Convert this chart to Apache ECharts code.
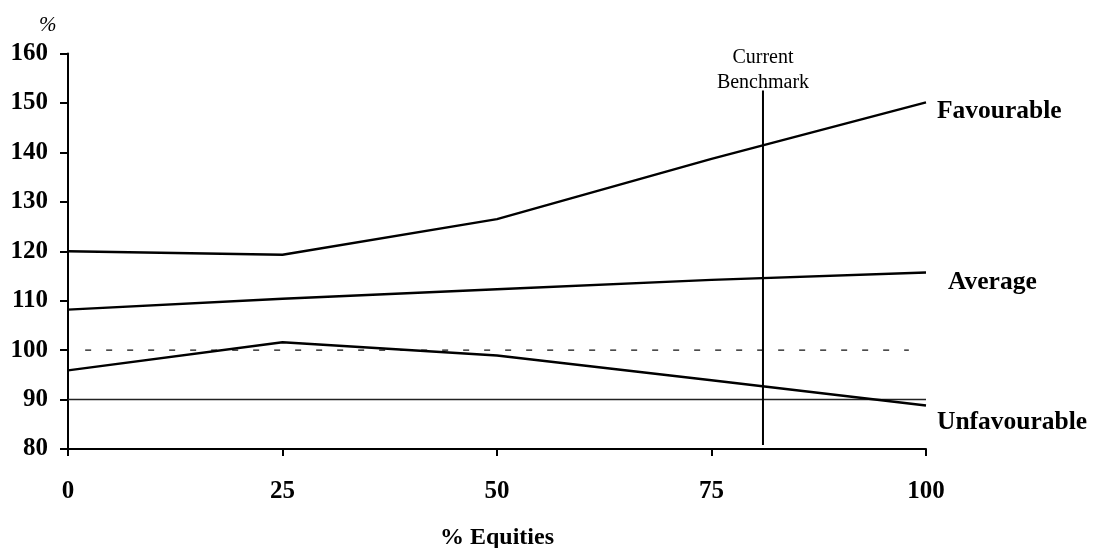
<!DOCTYPE html>
<html><head><meta charset="utf-8">
<script src="https://cdn.jsdelivr.net/npm/echarts@6/dist/echarts.min.js"></script>
<style>html,body{margin:0;padding:0;background:#fff}#c{width:1094px;height:548px}</style>
</head><body><div id="c"></div>
<script>
const equities = [0, 25, 50, 75, 100];
const favourable = [120, 119.3, 126.5, 138.7, 150.1];
const average = [108.2, 110.4, 112.3, 114.2, 115.7];
const unfavourable = [95.9, 101.6, 98.9, 93.9, 88.8];
const seriesNames = ['Favourable', 'Average', 'Unfavourable'];
const benchmarkX = [81, 81];
const benchmarkY = [80.8, 152.5];
const benchmarkLabel = 'Current\nBenchmark';
const parX = [2, 98];
const parY = [100, 100];
const floorX = [0, 100];
const floorY = [90, 90];
const xTickStep = 25;
const yTickStep = 10;
const yUnit = '%';
const xTitle = '% Equities';

const FONT = '"Liberation Serif", "Times New Roman", serif';
const zip = (xs, ys) => xs.map((x, i) => [x, ys[i]]);

const chart = echarts.init(document.getElementById('c'));
const lineStyle = { color: '#000', width: 2.4 };
function labelled(name, ys, distance, offsetY) {
  return {
    type: 'line', name, data: zip(equities, ys), symbol: 'none', silent: true,
    lineStyle, z: 5,
    endLabel: { show: true, formatter: name, color: '#000', fontFamily: FONT,
      fontWeight: 'bold', fontSize: 25.5, distance, offset: [0, offsetY] }
  };
}
chart.setOption({
  animation: false,
  backgroundColor: '#fff',
  grid: { left: 68, right: 168, top: 53.5, bottom: 99, containLabel: false, outerBoundsMode: 'none' },
  xAxis: {
    type: 'value', min: 0, max: 100, interval: xTickStep,
    name: xTitle, nameLocation: 'middle', nameGap: 77,
    nameTextStyle: { fontFamily: FONT, fontWeight: 'bold', fontSize: 24, color: '#000' },
    axisLine: { lineStyle: { color: '#000', width: 2 } },
    axisTick: { length: 7, lineStyle: { color: '#000', width: 2 } },
    axisLabel: { margin: 30, fontFamily: FONT, fontWeight: 'bold', fontSize: 25, color: '#000' },
    splitLine: { show: false }
  },
  yAxis: {
    type: 'value', min: 80, max: 160, interval: yTickStep,
    axisLine: { show: true, lineStyle: { color: '#000', width: 2 } },
    axisTick: { show: true, length: 8, lineStyle: { color: '#000', width: 2 } },
    axisLabel: { margin: 20, fontFamily: FONT, fontWeight: 'bold', fontSize: 25, color: '#000' },
    splitLine: { show: false }
  },
  graphic: [{ type: 'text', left: 39, top: 15,
    style: { text: yUnit, font: 'italic 21px ' + FONT, fill: '#000' } }],
  series: [
    labelled(seriesNames[0], favourable, 11, 9),
    labelled(seriesNames[1], average, 22, 10),
    labelled(seriesNames[2], unfavourable, 11, 17),
    { type: 'line', data: zip(floorX, floorY), symbol: 'none', silent: true,
      lineStyle: { color: '#222', width: 1.4 }, z: 3 },
    { type: 'line', data: zip(parX, parY), symbol: 'none', silent: true,
      lineStyle: { color: '#111', width: 1.3, type: [6, 15] }, z: 3 },
    { type: 'line', data: zip(benchmarkX, benchmarkY), symbol: 'circle', symbolSize: 0.1,
      showSymbol: true, silent: true,
      itemStyle: { color: '#000' },
      lineStyle: { color: '#000', width: 2 }, z: 4,
      label: { show: true, position: 'top', distance: -5, color: '#000', fontFamily: FONT,
        fontSize: 20, lineHeight: 25, align: 'center',
        formatter: p => p.dataIndex === 1 ? benchmarkLabel : '' } }
  ]
});
</script></body></html>
